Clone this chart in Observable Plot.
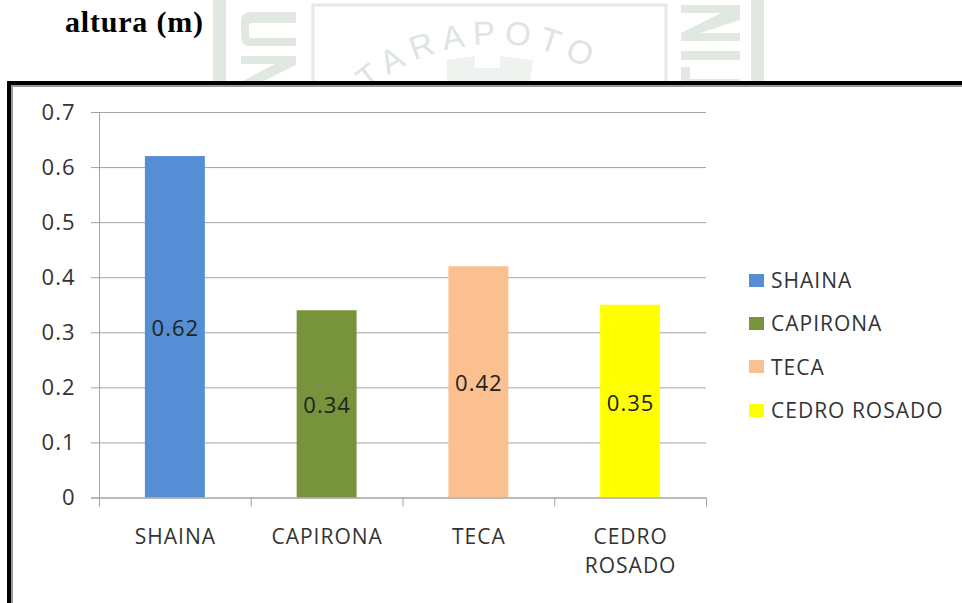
<!DOCTYPE html>
<html>
<head>
<meta charset="utf-8">
<script src="https://cdn.jsdelivr.net/npm/d3@7"></script>
<script src="https://cdn.jsdelivr.net/npm/@observablehq/plot@0.6"></script>
<style>
html,body{margin:0;padding:0;background:#fff;overflow:hidden}
#page{position:relative;width:962px;height:603px;overflow:hidden;background:#fff}
#title{position:absolute;left:65px;top:5px;font:bold 30px "Liberation Serif",serif;letter-spacing:.8px;color:#000;white-space:nowrap}
#wm{position:absolute;left:0;top:0}
#frame{position:absolute;left:7px;top:81px;width:955px;height:522px;border:4px solid #000;border-right:none;border-bottom:none;background:#fff;box-sizing:border-box;box-shadow:inset 2px 2px 0 #9a9a9a}
#chart{position:absolute;left:0;top:0}
#legend{position:absolute;left:749px;top:258px}
.li{position:absolute;left:0;white-space:nowrap;font:21px "Open Sans",sans-serif;letter-spacing:1px;color:#333;display:flex;align-items:center;height:44px}
.sw{width:15px;height:13px;margin-right:7px;display:inline-block}
</style>
</head>
<body>
<div id="page">
<svg id="wm" width="962" height="160" xmlns="http://www.w3.org/2000/svg">
  <g fill="#e1e8e1">
    <rect x="213" y="0" width="13" height="85"/>
    <path d="M296 12H250Q241 12 241 22V37Q241 46 250 46H296V38H252Q249 38 249 35V24Q249 23 252 23H296Z"/>
    <path d="M241 56H296V65L262 82H241L275 64H241Z"/>
    <rect x="681" y="5" width="59" height="8"/>
    <path d="M740 13V20L700 33H740V41H681V33L721 13Z"/>
    <rect x="681" y="51" width="59" height="9"/>
    <rect x="681" y="67" width="9" height="15"/>
    <rect x="681" y="79" width="59" height="5"/>
    <rect x="751" y="0" width="13" height="85"/>
  </g>
  <path d="M313 85V5H666V85" fill="none" stroke="#e4eae4" stroke-width="3"/>
  <path d="M447 82L447 60L475 56L475 68L500 68L500 56L533 60L530 82Z" fill="#eff3ef"/>
  <defs><path id="arc" d="M368 92Q420 44 500 44Q570 46 630 100"/></defs>
  <text font-family="Liberation Sans, sans-serif" font-size="33" fill="#dde5dd" letter-spacing="8"><textPath href="#arc">TARAPOTO</textPath></text>
</svg>
<div id="title">altura (m)</div>
<div id="frame"></div>
<div id="chart"></div>
<div id="legend"></div>
</div>
<script>
const categories = ["SHAINA", "CAPIRONA", "TECA", "CEDRO ROSADO"];
const axisLabels = ["SHAINA", "CAPIRONA", "TECA", "CEDRO\nROSADO"];
const values = [0.62, 0.34, 0.42, 0.35];
const colors = ["#558ed5", "#77933c", "#fac090", "#ffff00"];
const yTicks = [0, 0.1, 0.2, 0.3, 0.4, 0.5, 0.6, 0.7];
const rows = categories.map((c, i) => ({c, v: values[i], color: colors[i]}));
const font = '"Open Sans", sans-serif';
const ml = 99, mr = 256, band = (962 - ml - mr) / categories.length;
const grid = "#a3a3a3";

const plot = Plot.plot({
  width: 962, height: 603,
  marginLeft: ml, marginRight: mr, marginTop: 112, marginBottom: 105.5,
  style: {background: "transparent", fontFamily: font, fontSize: "20px", color: "#333", letterSpacing: "1px"},
  x: {domain: categories, padding: 0, round: false, label: null},
  y: {domain: [0, 0.7], label: null},
  marks: [
    Plot.ruleY(yTicks, {stroke: grid, insetLeft: -8}),
    Plot.barY(rows, {x: "c", y: "v", fill: "color", insetLeft: 45.9, insetRight: 45.9}),
    Plot.ruleY(yTicks.slice(0, 1), {stroke: grid, insetLeft: -8}),
    Plot.ruleX(categories, {x: d => d, y1: 0, y2: -0.0165, dx: -band / 2, stroke: grid}),
    Plot.ruleX(categories.slice(3), {x: d => d, y1: 0, y2: -0.0165, dx: band / 2, stroke: grid}),
    Plot.ruleX(categories.slice(0, 1), {x: d => d, y1: 0, y2: 0.7, dx: -band / 2, stroke: grid}),
    Plot.axisY({ticks: yTicks, tickSize: 0, tickPadding: 24, tickFormat: d => String(d), fontSize: 22, fill: "#333", anchor: "left"}),
    Plot.axisX({tickSize: 0, tickPadding: 25, tickFormat: d => axisLabels[categories.indexOf(d)], fontSize: 21, lineHeight: 1.38, fill: "#333", lineAnchor: "top"}),
    Plot.text(rows, {x: "c", y: d => d.v / 2, text: d => String(d.v), fontSize: 22, fill: "#222", dy: 2})
  ]
});
document.getElementById("chart").appendChild(plot);

const legend = document.getElementById("legend");
categories.forEach((c, i) => {
  const li = document.createElement("div");
  li.className = "li";
  li.style.top = (i * 43.4) + "px";
  li.innerHTML = `<span class="sw" style="background:${colors[i]}"></span>${c}`;
  legend.appendChild(li);
});
</script>
</body>
</html>
